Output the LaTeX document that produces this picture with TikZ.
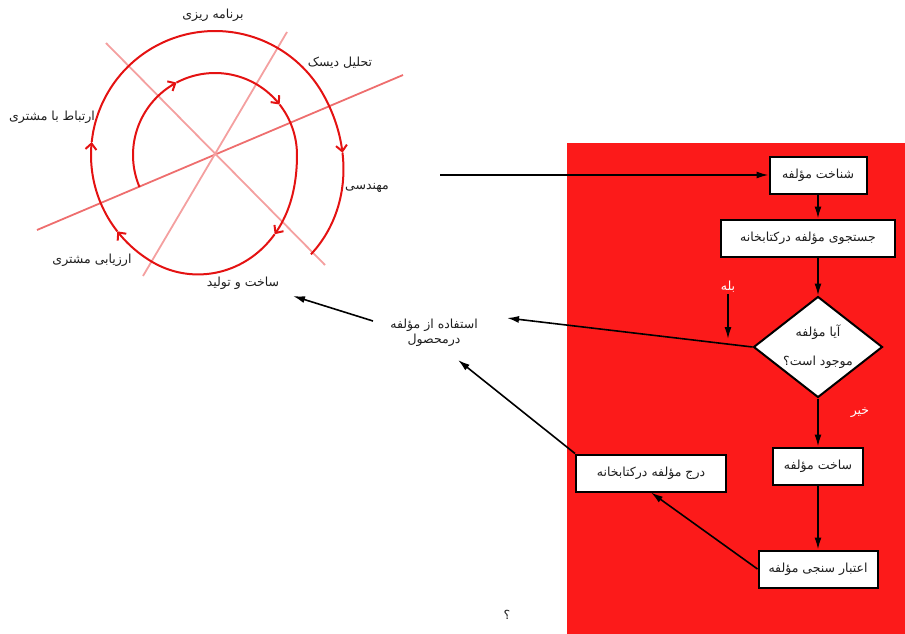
\documentclass[tikz,border=0pt]{standalone}
\usepackage{fontspec}
\newfontfamily\fa[Script=Arabic]{DejaVu Sans}
\TeXXeTstate=1
\usetikzlibrary{shapes.geometric, arrows.meta, positioning, calc}
\definecolor{bgred}{RGB}{252,26,26}
\definecolor{spiralred}{RGB}{228,18,18}
\definecolor{axisdark}{RGB}{238,110,110}
\definecolor{axislight}{RGB}{244,160,160}
\definecolor{txtgray}{RGB}{30,30,30}
\newcommand{\fatxt}[1]{\beginR#1\endR}
\newcommand{\fasize}{\fa\fontsize{12.5}{15}\selectfont}
\tikzset{
  lbl/.style={font=\fasize,text=txtgray,inner sep=1pt,align=center},
  wlbl/.style={font=\fasize,text=white,inner sep=1pt},
  stepbox/.style={rectangle,draw=black,line width=2pt,fill=white,minimum height=37pt,
    font=\fasize,text=txtgray},
  decbox/.style={diamond,draw=black,line width=2pt,fill=white,minimum width=129pt,
    minimum height=101pt,inner sep=-12pt,aspect=1.28,align=center,font=\fasize,text=txtgray},
  arr/.style={-{Latex[length=12pt,width=7pt]},line width=1.6pt,black},
  spiralseg/.style={spiralred,line width=2pt,-{Straight Barb[length=6pt,width=11pt]}},
  axisline/.style={line width=1.8pt}
}

\begin{document}
\begin{tikzpicture}[x=1pt,y=-1pt,
  declare function={
    ramp(\t,\p,\q)=(1-cos(180*min(max((\t-\p)/(\q-\p),0),1)))/2;
    srad(\t)=82+42*ramp(\t,0,120)+15*ramp(\t,330,420);}]
  \useasboundingbox (0,0) rectangle (905,634);

  % red panel
  \fill[bgred] (567,143) rectangle (905,634);

  % axes of the spiral
  \draw[axisline,axisdark] (37,230) -- (403,75);
  \draw[axisline,axislight] (106,43) -- (325,265);
  \draw[axisline,axislight] (287,32) -- (143,276);

  % spiral
  \begin{scope}[shift={(215,155)}]
    \foreach \a/\b in {-203/-118,-118/-38,-38/53,53/142,142/186,186/359}
      \draw[spiralseg] plot[domain=\a:\b,samples=40,smooth] (\x:{srad(\x)});
    \draw[spiralred,line width=2pt] plot[domain=359:406,samples=15,smooth] (\x:{srad(\x)});
  \end{scope}

  % phase labels
  \node[lbl] (plan) at (213,15) {\fatxt{برنامه ریزی}};
  \node[lbl] (risk) at (340,63) {\fatxt{تحلیل دیسک}};
  \node[lbl] (comm) at (52,117) {\fatxt{ارتباط با مشتری}};
  \node[lbl] (eng) at (367,188) {\fatxt{مهندسی}};
  \node[lbl] (eval) at (92,260) {\fatxt{ارزیابی مشتری}};
  \node[lbl] (build) at (243,283) {\fatxt{ساخت و تولید}};
  \node[lbl] (use) at (434,333) {\fatxt{استفاده از مؤلفه}\\\fatxt{درمحصول}};
  \node[lbl] (qmark) at (507,615) {\fatxt{؟}};

  % flowchart
  \node[stepbox,minimum width=97pt] (s1) at (818,175) {\fatxt{شناخت مؤلفه}};
  \node[stepbox,minimum width=174pt,below=24pt of s1,xshift=-10pt] (s2) {\fatxt{جستجوی مؤلفه درکتابخانه}};
  \node[decbox,below=38pt of s2,xshift=10pt] (dia) {\fatxt{آیا مؤلفه}\\[14pt]\fatxt{موجود است؟}};
  \node[stepbox,minimum width=90pt,below=48pt of dia] (s3) {\fatxt{ساخت مؤلفه}};
  \node[stepbox,minimum width=119pt,below=64pt of s3] (s4) {\fatxt{اعتبار سنجی مؤلفه}};
  \node[stepbox,minimum width=150pt,left=45pt of s3,yshift=-7pt] (s5) {\fatxt{درج مؤلفه درکتابخانه}};
  \node[wlbl] (yes) at (728,287) {\fatxt{بله}};
  \node[wlbl] (no) at (860,413) {\fatxt{خیر}};

  \coordinate (engE) at (440,175);
  \coordinate (yesE) at (728,339);
  \coordinate (useE) at (507,318);
  \coordinate (useS) at (458,360);
  \coordinate (useW) at (373,321);
  \coordinate (buildE) at (293,296);

  \draw[arr] (engE) -- (s1.west);
  \draw[arr] (s1.south) -- (s1.south |- s2.north);
  \draw[arr] (s1.south |- s2.south) -- (dia.north);
  \draw[arr] (dia.west) -- (useE);
  \draw[arr] (yes.south) -- (yesE);
  \draw[arr] (dia.south) -- (s3.north);
  \draw[arr] (s3.south) -- (s4.north);
  \draw[arr] (s4.west) -- (s5.south);
  \draw[arr] (s5.north west) -- (useS);
  \draw[arr] (useW) -- (buildE);
\end{tikzpicture}
\end{document}
